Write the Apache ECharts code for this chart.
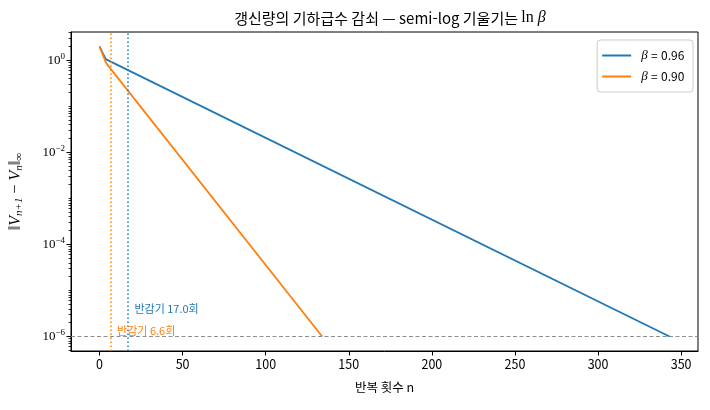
<!DOCTYPE html>
<html lang="ko" style="height: 100%">
<head>
  <meta charset="utf-8">
</head>
<body style="height: 100%; margin: 0; background: #fff">
  <div id="container" style="width: 710px; height: 410px"></div>

  <script type="text/javascript" src="https://cdn.jsdelivr.net/npm/echarts@6/dist/echarts.min.js"></script>
  <script type="text/javascript">
    // 읽어낸 값 (그림에서 추정)
    var iterBlue = [0, 1, 2, 3, 4, 5, 343];
    var deltaBlue = [2.0, 1.68, 1.41, 1.22, 1.05, 0.98, 1.0e-6];
    var iterOrange = [0, 1, 2, 3, 4, 134];
    var deltaOrange = [2.0, 1.62, 1.32, 1.07, 0.87, 1.0e-6];
    var betas = ['0.96', '0.90'];
    var halfLives = [17.0, 6.6];
    var tolerance = 1e-6;

    var xTickValues = [0, 50, 100, 150, 200, 250, 300, 350];
    var yMajorValues = [1e-6, 1e-4, 1e-2, 1];

    // 보조 눈금: m × 10^k (주 눈금 제외)
    var yMinorValues = [];
    for (var k = -7; k <= 0; k++) {
      for (var m = 1; m <= 9; m++) {
        if (m === 1 && k % 2 === 0) continue;
        var v = m * Math.pow(10, k);
        if (v > 4.84e-7 && v < 4.13) yMinorValues.push(v);
      }
    }

    var BLUE = '#1f77b4';
    var ORANGE = '#ff7f0e';
    var KR = '"Noto Sans CJK KR", "Noto Sans", sans-serif';
    var MATH = '"Liberation Serif", "DejaVu Serif", serif';

    var dom = document.getElementById('container');
    var myChart = echarts.init(dom, null, { renderer: 'canvas' });

    function zip(xs, ys) {
      return xs.map(function (x, i) { return [x, ys[i]]; });
    }

    var option = {
      animation: false,
      backgroundColor: '#fff',
      title: {
        text: '{t|갱신량의 기하급수 감쇠 — semi-log 기울기는 }{m|ln }{i|β}',
        left: 385,
        textAlign: 'center',
        top: 5,
        textStyle: {
          fontWeight: 'normal',
          rich: {
            t: { fontFamily: KR, fontSize: 15, fontWeight: 'normal', color: '#000' },
            m: { fontFamily: MATH, fontSize: 16, fontWeight: 'normal', color: '#000' },
            i: { fontFamily: MATH, fontSize: 16, fontWeight: 'normal', fontStyle: 'italic', color: '#000' }
          }
        }
      },
      legend: {
        data: ['β = ' + betas[0], 'β = ' + betas[1]],
        orient: 'vertical',
        right: 17,
        top: 40,
        icon: 'rect',
        itemWidth: 29,
        itemHeight: 2,
        itemGap: 8,
        padding: [9, 10, 9, 5],
        borderColor: '#cccccc',
        borderWidth: 1,
        borderRadius: 3,
        backgroundColor: 'rgba(255,255,255,0.8)',
        formatter: function (name) {
          return '{i|β}{n| = ' + name.split('=')[1].trim() + '}';
        },
        textStyle: {
          padding: [0, 0, 0, 5],
          rich: {
            i: { fontFamily: MATH, fontSize: 13, fontStyle: 'italic', color: '#000' },
            n: { fontFamily: KR, fontSize: 12, color: '#000' }
          }
        }
      },
      grid: {
        left: 70,
        right: 12,
        top: 32,
        bottom: 59,
        show: true,
        borderColor: '#000',
        borderWidth: 1,
        backgroundColor: 'transparent'
      },
      xAxis: {
        type: 'value',
        min: -17.15,
        max: 360.15,
        name: '반복 횟수 n',
        nameLocation: 'middle',
        nameGap: 30,
        nameTextStyle: { fontFamily: KR, fontSize: 12.5, color: '#000' },
        splitLine: { show: false },
        axisLine: { show: true, onZero: false, lineStyle: { color: '#000', width: 1 } },
        axisTick: { show: true, customValues: xTickValues, length: 4.5, lineStyle: { color: '#000' } },
        axisLabel: { customValues: xTickValues, fontFamily: KR, fontSize: 12.5, color: '#000', margin: 7 }
      },
      yAxis: [
        {
          type: 'log',
          logBase: 10,
          min: 4.84e-7,
          max: 4.13,
          name: '{n|‖}{i|V}{s|n+1}{n| − }{i|V}{s|n}{n|‖}{s|∞}',
          nameLocation: 'middle',
          nameRotate: 90,
          nameGap: 46,
          nameTextStyle: {
            rich: {
              n: { fontFamily: MATH, fontSize: 16, color: '#000' },
              i: { fontFamily: MATH, fontSize: 16, fontStyle: 'italic', color: '#000' },
              s: { fontFamily: MATH, fontSize: 11, fontStyle: 'italic', color: '#000', padding: [7, 0, 0, 0] }
            }
          },
          splitLine: { show: false },
          axisLine: { show: true, onZero: false, lineStyle: { color: '#000', width: 1 } },
          axisTick: { show: true, customValues: yMajorValues, length: 4.5, lineStyle: { color: '#000' } },
          axisLabel: {
            customValues: yMajorValues,
            margin: 6,
            formatter: function (val) {
              var e = Math.round(Math.log10(val));
              return '{b|10}{e|' + (e < 0 ? '−' + (-e) : e) + '}';
            },
            rich: {
              b: { fontFamily: MATH, fontSize: 13, color: '#000' },
              e: { fontFamily: MATH, fontSize: 9, color: '#000', padding: [0, 0, 8, 0] }
            }
          }
        },
        {
          type: 'log',
          logBase: 10,
          min: 4.84e-7,
          max: 4.13,
          position: 'left',
          splitLine: { show: false },
          axisLine: { show: false, onZero: false },
          axisTick: {
            show: true,
            customValues: yMinorValues,
            length: 2.5,
            lineStyle: { color: '#000', width: 0.8 }
          },
          axisLabel: { show: false }
        }
      ],
      series: [
        {
          name: 'β = ' + betas[0],
          type: 'line',
          data: zip(iterBlue, deltaBlue),
          symbol: 'none',
          color: BLUE,
          lineStyle: { width: 1.8, color: BLUE },
          markLine: {
            silent: true,
            symbol: 'none',
            label: { show: false },
            data: [
              { xAxis: halfLives[0], lineStyle: { type: [1.5, 2.5], color: BLUE, width: 1.5 } }
            ]
          },
          markPoint: {
            silent: true,
            data: [{
              coord: [halfLives[0] + 4, 3 * tolerance],
              symbol: 'circle',
              symbolSize: 0,
              label: {
                show: true,
                formatter: '반감기 ' + halfLives[0].toFixed(1) + '회',
                position: [0, 0],
                align: 'left',
                verticalAlign: 'bottom',
                fontFamily: KR,
                fontSize: 11,
                color: BLUE
              }
            }]
          }
        },
        {
          name: 'β = ' + betas[1],
          type: 'line',
          data: zip(iterOrange, deltaOrange),
          symbol: 'none',
          color: ORANGE,
          lineStyle: { width: 1.8, color: ORANGE },
          markLine: {
            silent: true,
            symbol: 'none',
            label: { show: false },
            data: [
              { xAxis: halfLives[1], lineStyle: { type: [1.5, 2.5], color: ORANGE, width: 1.5 } }
            ]
          },
          markPoint: {
            silent: true,
            data: [{
              coord: [halfLives[1] + 4, tolerance],
              symbol: 'circle',
              symbolSize: 0,
              label: {
                show: true,
                formatter: '반감기 ' + halfLives[1].toFixed(1) + '회',
                position: [0, 0],
                align: 'left',
                verticalAlign: 'bottom',
                fontFamily: KR,
                fontSize: 11,
                color: ORANGE
              }
            }]
          }
        },
        {
          name: 'tolerance',
          type: 'line',
          data: [],
          markLine: {
            silent: true,
            symbol: 'none',
            label: { show: false },
            data: [[
              { coord: [-17.15, tolerance] },
              { coord: [360.15, tolerance] }
            ]],
            lineStyle: { type: [4, 2.5], color: '#808080', width: 0.9 }
          }
        }
      ]
    };

    myChart.setOption(option);
    window.addEventListener('resize', myChart.resize);
  </script>
</body>
</html>
